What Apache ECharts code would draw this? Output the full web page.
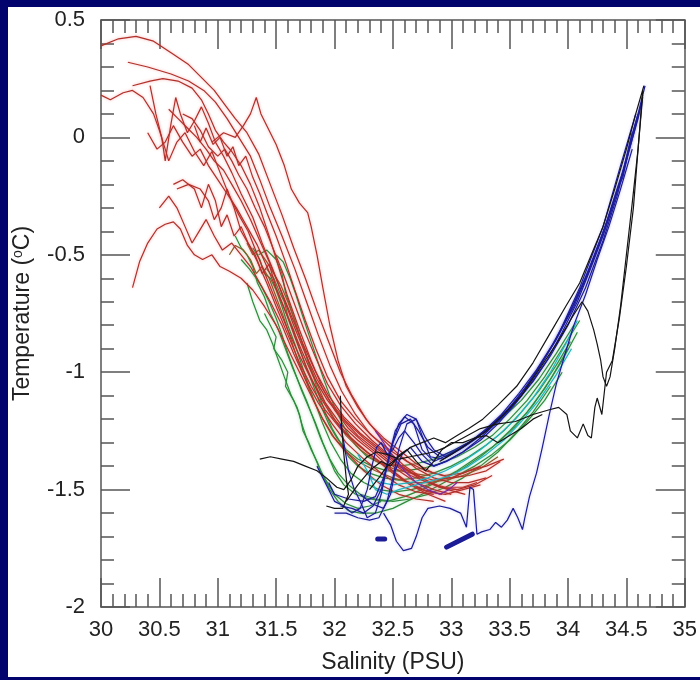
<!DOCTYPE html>
<html><head><meta charset="utf-8">
<script src="https://cdn.jsdelivr.net/npm/echarts@6/dist/echarts.min.js"></script>
<style>html,body{margin:0;padding:0;background:#fff}#c{width:700px;height:680px}</style>
</head><body><div id="c"></div>
<script>
// Axis definitions
const xMin = 30, xMax = 35, xStep = 0.5;
const yMin = -2, yMax = 0.5, yStep = 0.5;
const xTitle = 'Salinity (PSU)';
const yTitleParts = ['Temperature (', 'o', 'C)'];

// Red profiles [salinity, temperature]
const red1 = [[30,0.39],[30.15,0.42],[30.3,0.43],[30.45,0.41],[30.6,0.36],[30.75,0.31],[30.87,0.25],[30.97,0.2],[31.06,0.14],[31.15,0.08],[31.25,0.02],[31.35,-0.07],[31.45,-0.2],[31.55,-0.33],[31.65,-0.47],[31.75,-0.6],[31.85,-0.74],[31.95,-0.87],[32.05,-1.0],[32.15,-1.1],[32.27,-1.2],[32.4,-1.28],[32.55,-1.35],[32.7,-1.41],[32.85,-1.45],[33.0,-1.47],[33.15,-1.47],[33.3,-1.45]];
const red2 = [[30.23,0.32],[30.4,0.3],[30.6,0.27],[30.75,0.24],[30.88,0.2],[30.98,0.15],[31.08,0.08],[31.18,0.0],[31.28,-0.08],[31.36,-0.18],[31.45,-0.3],[31.55,-0.42],[31.66,-0.56],[31.76,-0.7],[31.86,-0.84],[31.96,-0.97],[32.06,-1.08],[32.18,-1.18],[32.3,-1.26],[32.45,-1.33],[32.6,-1.4],[32.75,-1.45],[32.9,-1.49],[33.05,-1.5]];
const red3 = [[30.27,0.22],[30.42,0.24],[30.53,0.25],[30.66,0.24],[30.78,0.21],[30.86,0.16],[30.92,0.1],[30.98,0.03],[31.05,-0.02],[31.12,-0.06],[31.2,-0.12],[31.28,-0.2],[31.36,-0.3],[31.44,-0.42],[31.52,-0.55],[31.6,-0.68],[31.7,-0.82],[31.8,-0.95],[31.9,-1.07],[32.0,-1.16],[32.12,-1.24],[32.25,-1.3],[32.4,-1.36],[32.55,-1.42],[32.7,-1.47],[32.85,-1.5],[33.0,-1.52]];
const red4 = [[30,0.18],[30.08,0.16],[30.19,0.19],[30.27,0.2],[30.36,0.17],[30.45,0.1],[30.5,0.03],[30.55,-0.05],[30.58,-0.1],[30.65,-0.02],[30.72,0.02],[30.8,-0.06],[30.88,-0.12],[30.95,-0.06],[31.02,-0.15],[31.1,-0.25],[31.18,-0.33],[31.26,-0.4],[31.34,-0.5],[31.42,-0.6],[31.5,-0.7],[31.6,-0.82],[31.7,-0.93],[31.8,-1.03],[31.92,-1.13],[32.05,-1.22],[32.2,-1.29],[32.35,-1.35],[32.5,-1.42],[32.65,-1.48],[32.8,-1.52],[32.95,-1.55]];
const red5 = [[30.42,0.22],[30.47,0.1],[30.52,0.0],[30.55,-0.1],[30.6,0.06],[30.64,0.17],[30.68,0.1],[30.74,0.02],[30.8,0.07],[30.86,0.13],[30.92,0.06],[30.98,-0.02],[31.05,-0.08],[31.12,-0.15],[31.2,-0.24],[31.3,-0.34],[31.38,-0.45],[31.47,-0.56],[31.56,-0.68],[31.65,-0.8],[31.75,-0.92],[31.85,-1.03],[31.97,-1.13],[32.1,-1.21],[32.25,-1.28],[32.4,-1.34],[32.55,-1.4],[32.7,-1.44],[32.85,-1.46],[33.0,-1.45],[33.15,-1.42],[33.3,-1.4],[33.45,-1.37]];
const red6 = [[30.95,-0.02],[31.05,0.02],[31.15,0.0],[31.22,0.05],[31.28,0.1],[31.33,0.17],[31.37,0.1],[31.42,0.05],[31.5,-0.03],[31.57,-0.12],[31.63,-0.22],[31.7,-0.28],[31.77,-0.32],[31.8,-0.38],[31.85,-0.5],[31.9,-0.64],[31.96,-0.8],[32.03,-0.95],[32.1,-1.06],[32.2,-1.15],[32.3,-1.22],[32.42,-1.28],[32.55,-1.33],[32.7,-1.39],[32.85,-1.43],[33.0,-1.45],[33.15,-1.44],[33.3,-1.42],[33.42,-1.38]];
const red7 = [[30.27,-0.64],[30.33,-0.53],[30.4,-0.45],[30.48,-0.39],[30.55,-0.37],[30.62,-0.36],[30.68,-0.39],[30.74,-0.46],[30.8,-0.5],[30.87,-0.52],[30.95,-0.5],[31.02,-0.55],[31.1,-0.57],[31.2,-0.6],[31.3,-0.65],[31.4,-0.72],[31.5,-0.8],[31.6,-0.9],[31.7,-1.0],[31.8,-1.1],[31.9,-1.2],[32.0,-1.28],[32.12,-1.35],[32.25,-1.42],[32.4,-1.48],[32.55,-1.52],[32.7,-1.54],[32.85,-1.55]];
const red8 = [[30.65,-0.22],[30.75,-0.2],[30.85,-0.22],[30.92,-0.27],[30.97,-0.35],[31.03,-0.3],[31.08,-0.22],[31.14,-0.3],[31.2,-0.4],[31.27,-0.46],[31.34,-0.53],[31.42,-0.62],[31.5,-0.72],[31.6,-0.84],[31.7,-0.96],[31.8,-1.06],[31.92,-1.16],[32.05,-1.24],[32.2,-1.31],[32.35,-1.37],[32.5,-1.43],[32.65,-1.48],[32.8,-1.51],[32.95,-1.52],[33.1,-1.5],[33.25,-1.48]];
const red9 = [[30.5,-0.3],[30.58,-0.25],[30.65,-0.3],[30.72,-0.38],[30.78,-0.45],[30.84,-0.4],[30.9,-0.35],[30.97,-0.42],[31.04,-0.48],[31.12,-0.45],[31.2,-0.5],[31.28,-0.55],[31.36,-0.62],[31.45,-0.7],[31.55,-0.8],[31.65,-0.92],[31.75,-1.03],[31.86,-1.13],[31.98,-1.22],[32.1,-1.3],[32.25,-1.37],[32.4,-1.43],[32.55,-1.48],[32.7,-1.51],[32.85,-1.52]];
const red10 = [[30.4,0.02],[30.48,-0.05],[30.55,-0.02],[30.62,0.05],[30.7,-0.02],[30.78,-0.08],[30.85,-0.05],[30.92,-0.12],[31.0,-0.18],[31.08,-0.24],[31.16,-0.3],[31.25,-0.38],[31.34,-0.46],[31.43,-0.56],[31.52,-0.67],[31.62,-0.79],[31.72,-0.91],[31.82,-1.02],[31.94,-1.12],[32.07,-1.2],[32.2,-1.27],[32.35,-1.33],[32.5,-1.39],[32.65,-1.44],[32.8,-1.47],[32.95,-1.49],[33.1,-1.49],[33.22,-1.47]];
const red11 = [[30.7,0.1],[30.78,0.08],[30.85,0.03],[30.92,-0.04],[31.0,-0.08],[31.06,-0.05],[31.12,-0.1],[31.18,-0.16],[31.25,-0.22],[31.32,-0.3],[31.4,-0.38],[31.48,-0.48],[31.56,-0.58],[31.65,-0.7],[31.74,-0.82],[31.84,-0.94],[31.94,-1.05],[32.05,-1.14],[32.18,-1.22],[32.32,-1.29],[32.46,-1.35],[32.6,-1.41],[32.75,-1.46],[32.9,-1.49],[33.05,-1.5],[33.2,-1.48],[33.35,-1.44]];
const red12 = [[30.58,0.12],[30.66,0.08],[30.74,0.04],[30.82,0.0],[30.9,-0.05],[30.97,-0.1],[31.05,-0.14],[31.12,-0.2],[31.2,-0.27],[31.28,-0.35],[31.36,-0.44],[31.45,-0.54],[31.54,-0.65],[31.63,-0.76],[31.73,-0.88],[31.83,-0.99],[31.95,-1.1],[32.08,-1.19],[32.22,-1.26],[32.37,-1.32],[32.52,-1.38],[32.67,-1.43],[32.82,-1.47],[32.97,-1.5],[33.12,-1.52]];
const red13 = [[30.62,-0.2],[30.7,-0.18],[30.8,-0.22],[30.86,-0.3],[30.92,-0.2],[30.98,-0.27],[31.03,-0.38],[31.08,-0.33],[31.14,-0.42],[31.2,-0.38],[31.26,-0.45],[31.32,-0.5],[31.38,-0.58],[31.44,-0.54],[31.5,-0.64],[31.58,-0.74],[31.66,-0.85],[31.76,-0.98],[31.86,-1.09],[31.98,-1.19],[32.12,-1.27],[32.28,-1.34],[32.44,-1.4],[32.6,-1.46],[32.76,-1.5],[32.92,-1.52]];
const red14 = [[30.8,0.05],[30.85,-0.02],[30.9,0.04],[30.96,-0.03],[31.02,0.0],[31.08,-0.08],[31.13,-0.04],[31.18,-0.12],[31.24,-0.08],[31.3,-0.17],[31.36,-0.24],[31.42,-0.32],[31.5,-0.42],[31.58,-0.53],[31.66,-0.65],[31.75,-0.78],[31.84,-0.9],[31.94,-1.02],[32.05,-1.12],[32.18,-1.2],[32.32,-1.27],[32.47,-1.33],[32.62,-1.38],[32.78,-1.42],[32.94,-1.44],[33.1,-1.43],[33.25,-1.4]];

// Olive (transition) profiles
const olive1 = [[31.1,-0.5],[31.15,-0.46],[31.22,-0.48],[31.28,-0.52],[31.33,-0.58],[31.38,-0.55],[31.44,-0.6],[31.5,-0.68],[31.56,-0.76],[31.62,-0.85],[31.68,-0.94],[31.75,-1.03],[31.82,-1.12],[31.9,-1.2],[31.98,-1.27],[32.08,-1.33],[32.2,-1.38],[32.35,-1.42],[32.5,-1.45],[32.65,-1.47],[32.8,-1.47],[32.95,-1.46],[33.1,-1.44],[33.25,-1.41],[33.4,-1.36]];
const olive2 = [[31.25,-0.45],[31.3,-0.5],[31.35,-0.48],[31.42,-0.53],[31.48,-0.58],[31.54,-0.63],[31.6,-0.7],[31.66,-0.78],[31.72,-0.87],[31.78,-0.96],[31.85,-1.05],[31.92,-1.13],[32.0,-1.2],[32.1,-1.27],[32.22,-1.33],[32.36,-1.38],[32.5,-1.41],[32.65,-1.43],[32.8,-1.44]];

// Green profiles
const green1 = [[31.15,-0.42],[31.2,-0.47],[31.25,-0.5],[31.3,-0.55],[31.34,-0.62],[31.4,-0.68],[31.45,-0.75],[31.52,-0.82],[31.58,-0.9],[31.64,-0.98],[31.7,-1.05],[31.76,-1.12],[31.82,-1.2],[31.88,-1.28],[31.94,-1.35],[32.0,-1.42],[32.08,-1.48],[32.18,-1.52],[32.3,-1.54],[32.45,-1.55],[32.6,-1.53],[32.75,-1.5],[32.9,-1.46],[33.05,-1.42],[33.2,-1.37],[33.35,-1.32],[33.5,-1.25],[33.65,-1.17],[33.8,-1.07],[33.95,-0.95],[34.08,-0.83]];
const green2 = [[31.25,-0.62],[31.3,-0.7],[31.36,-0.78],[31.42,-0.82],[31.47,-0.88],[31.52,-0.95],[31.57,-1.02],[31.63,-1.1],[31.68,-1.15],[31.72,-1.22],[31.76,-1.28],[31.8,-1.33],[31.85,-1.38],[31.9,-1.44],[31.96,-1.5],[32.03,-1.55],[32.12,-1.59],[32.22,-1.6],[32.35,-1.6],[32.5,-1.58],[32.62,-1.55],[32.75,-1.52],[32.9,-1.48],[33.05,-1.44],[33.2,-1.4],[33.35,-1.35],[33.5,-1.29],[33.65,-1.21],[33.8,-1.12],[33.95,-1.0]];
const green3 = [[31.35,-0.5],[31.42,-0.48],[31.5,-0.52],[31.55,-0.58],[31.58,-0.66],[31.62,-0.72],[31.67,-0.8],[31.72,-0.87],[31.77,-0.95],[31.82,-1.02],[31.87,-1.1],[31.92,-1.17],[31.98,-1.24],[32.05,-1.3],[32.12,-1.36],[32.2,-1.4],[32.3,-1.43],[32.42,-1.45],[32.55,-1.46],[32.7,-1.45],[32.85,-1.43],[33.0,-1.4],[33.15,-1.36],[33.3,-1.31],[33.45,-1.25],[33.6,-1.17],[33.75,-1.08],[33.9,-0.97],[34.02,-0.87]];
const green4 = [[31.2,-0.52],[31.27,-0.56],[31.33,-0.6],[31.38,-0.64],[31.44,-0.7],[31.5,-0.77],[31.55,-0.84],[31.6,-0.92],[31.66,-1.0],[31.72,-1.08],[31.78,-1.15],[31.84,-1.22],[31.9,-1.3],[31.96,-1.37],[32.03,-1.43],[32.12,-1.48],[32.22,-1.52],[32.35,-1.54],[32.5,-1.55],[32.65,-1.54],[32.8,-1.52],[32.95,-1.49],[33.1,-1.45],[33.25,-1.4],[33.4,-1.34],[33.55,-1.26],[33.7,-1.17],[33.85,-1.06]];
const green5 = [[31.42,-0.56],[31.48,-0.6],[31.53,-0.66],[31.57,-0.7],[31.6,-0.76],[31.65,-0.82],[31.7,-0.9],[31.76,-0.98],[31.82,-1.06],[31.88,-1.14],[31.95,-1.22],[32.02,-1.28],[32.1,-1.33],[32.2,-1.37],[32.32,-1.4],[32.45,-1.42],[32.6,-1.42],[32.75,-1.41],[32.9,-1.39],[33.05,-1.36],[33.2,-1.32],[33.35,-1.27],[33.5,-1.2],[33.65,-1.12],[33.8,-1.02],[33.95,-0.9],[34.1,-0.78]];
const green6 = [[31.3,-0.47],[31.36,-0.52],[31.4,-0.58],[31.45,-0.6],[31.5,-0.65],[31.55,-0.72],[31.6,-0.8],[31.66,-0.88],[31.72,-0.97],[31.78,-1.06],[31.84,-1.14],[31.9,-1.22],[31.97,-1.3],[32.05,-1.37],[32.14,-1.43],[32.25,-1.47],[32.38,-1.5],[32.52,-1.51],[32.66,-1.5],[32.8,-1.48],[32.95,-1.45],[33.1,-1.41],[33.25,-1.36],[33.4,-1.3],[33.55,-1.23],[33.7,-1.14],[33.85,-1.03],[34.0,-0.9]];
const green7 = [[31.4,-0.75],[31.45,-0.8],[31.5,-0.85],[31.48,-0.9],[31.55,-0.95],[31.6,-1.0],[31.58,-1.06],[31.65,-1.12],[31.7,-1.18],[31.73,-1.25],[31.78,-1.3],[31.83,-1.36],[31.88,-1.42],[31.95,-1.48],[32.0,-1.52],[32.1,-1.56],[32.2,-1.58],[32.3,-1.57],[32.4,-1.55]];
const green8 = [[31.5,-0.5],[31.56,-0.53],[31.62,-0.6],[31.67,-0.67],[31.72,-0.75],[31.78,-0.84],[31.84,-0.93],[31.9,-1.02],[31.96,-1.1],[32.03,-1.18],[32.1,-1.25],[32.18,-1.31],[32.28,-1.36],[32.4,-1.39],[32.55,-1.4],[32.7,-1.39],[32.85,-1.37],[33.0,-1.34],[33.15,-1.3],[33.3,-1.25],[33.45,-1.19],[33.6,-1.12],[33.75,-1.03],[33.9,-0.92],[34.05,-0.8]];

// Cyan profiles
const cyan1 = [[32.3,-1.45],[32.4,-1.47],[32.5,-1.48],[32.65,-1.47],[32.8,-1.45],[32.95,-1.42],[33.1,-1.38],[33.25,-1.33],[33.4,-1.27],[33.55,-1.2],[33.7,-1.11],[33.85,-1.0],[33.98,-0.88],[34.08,-0.78]];
const cyan2 = [[32.2,-1.35],[32.28,-1.42],[32.35,-1.5],[32.45,-1.52],[32.55,-1.5],[32.7,-1.48],[32.85,-1.46],[33.0,-1.44],[33.15,-1.4],[33.3,-1.35],[33.45,-1.29],[33.6,-1.21],[33.75,-1.12],[33.9,-1.01],[34.03,-0.9]];

// Purple profile
const purple1 = [[32.35,-1.25],[32.42,-1.3],[32.5,-1.36],[32.6,-1.42],[32.7,-1.47],[32.8,-1.5],[32.9,-1.52],[32.98,-1.5],[33.05,-1.47]];

// Blue profiles
const blue1 = [[34.66,0.22],[34.6,0.1],[34.52,-0.05],[34.45,-0.18],[34.36,-0.32],[34.27,-0.45],[34.17,-0.58],[34.05,-0.72],[33.92,-0.84],[33.78,-0.96],[33.63,-1.07],[33.48,-1.16],[33.33,-1.23],[33.18,-1.29],[33.03,-1.33],[32.9,-1.36],[32.8,-1.32],[32.72,-1.25],[32.65,-1.2],[32.57,-1.22],[32.5,-1.3],[32.45,-1.4],[32.4,-1.5],[32.33,-1.57],[32.25,-1.6],[32.15,-1.58],[32.05,-1.57]];
const blue2 = [[34.63,0.15],[34.57,0.03],[34.5,-0.1],[34.42,-0.22],[34.33,-0.36],[34.23,-0.5],[34.12,-0.63],[34.0,-0.76],[33.87,-0.88],[33.73,-0.99],[33.58,-1.09],[33.43,-1.18],[33.28,-1.25],[33.13,-1.31],[32.98,-1.35],[32.85,-1.38],[32.75,-1.33],[32.68,-1.22],[32.6,-1.19],[32.52,-1.25],[32.47,-1.35],[32.42,-1.45],[32.35,-1.53],[32.25,-1.55],[32.12,-1.54],[32.0,-1.52],[31.95,-1.47]];
const blue3 = [[34.6,0.1],[34.53,-0.02],[34.47,-0.15],[34.4,-0.26],[34.32,-0.38],[34.24,-0.48],[34.15,-0.6],[34.04,-0.72],[33.92,-0.84],[33.8,-0.94],[33.66,-1.05],[33.52,-1.14],[33.38,-1.21],[33.22,-1.28],[33.07,-1.33],[32.93,-1.37],[32.82,-1.36],[32.75,-1.27],[32.7,-1.2],[32.62,-1.22],[32.55,-1.33],[32.5,-1.45],[32.45,-1.55],[32.38,-1.62],[32.3,-1.63],[32.2,-1.62],[32.1,-1.6],[32.0,-1.6]];
const blue4 = [[34.55,0.02],[34.5,-0.1],[34.47,-0.17],[34.44,-0.2],[34.38,-0.3],[34.3,-0.42],[34.2,-0.55],[34.08,-0.7],[33.95,-0.83],[33.82,-0.95],[33.68,-1.05],[33.54,-1.14],[33.4,-1.22],[33.25,-1.29],[33.1,-1.34],[32.96,-1.38],[32.85,-1.4],[32.75,-1.38],[32.65,-1.32],[32.58,-1.35],[32.52,-1.42],[32.48,-1.52],[32.42,-1.58],[32.32,-1.56],[32.22,-1.52]];
const blue5 = [[34.55,-0.05],[34.45,-0.22],[34.35,-0.38],[34.25,-0.52],[34.15,-0.67],[34.05,-0.8],[33.97,-0.93],[33.9,-1.05],[33.84,-1.18],[33.78,-1.32],[33.73,-1.43],[33.67,-1.53],[33.63,-1.62],[33.61,-1.67],[33.57,-1.62],[33.53,-1.58],[33.48,-1.63],[33.43,-1.66],[33.38,-1.64],[33.33,-1.67],[33.26,-1.68],[33.22,-1.69],[33.19,-1.5],[33.16,-1.49],[33.13,-1.66],[33.08,-1.6],[32.99,-1.58],[32.9,-1.57],[32.8,-1.58],[32.75,-1.62],[32.7,-1.7],[32.66,-1.75],[32.59,-1.76],[32.53,-1.72],[32.48,-1.65],[32.42,-1.6]];
const blue6 = [[31.85,-1.4],[31.9,-1.45],[31.95,-1.5],[32.0,-1.55],[32.08,-1.57],[32.15,-1.6],[32.22,-1.58],[32.28,-1.5],[32.32,-1.4],[32.36,-1.32],[32.4,-1.3],[32.45,-1.35],[32.5,-1.33],[32.55,-1.28],[32.6,-1.25],[32.68,-1.3],[32.75,-1.35],[32.85,-1.4],[32.95,-1.38],[33.1,-1.34],[33.25,-1.28],[33.4,-1.21],[33.55,-1.13],[33.7,-1.04],[33.85,-0.93],[34.0,-0.8],[34.15,-0.64],[34.3,-0.44],[34.42,-0.25],[34.52,-0.06],[34.6,0.08],[34.64,0.17]];
const blue7 = [[32.05,-1.22],[32.08,-1.3],[32.12,-1.42],[32.17,-1.5],[32.22,-1.55],[32.28,-1.62],[32.35,-1.6],[32.4,-1.52],[32.45,-1.4],[32.5,-1.3],[32.55,-1.22],[32.62,-1.18],[32.7,-1.2],[32.78,-1.28],[32.85,-1.33],[32.95,-1.36],[33.1,-1.32],[33.3,-1.25],[33.5,-1.16],[33.7,-1.02],[33.9,-0.86],[34.1,-0.64],[34.3,-0.38],[34.45,-0.12],[34.58,0.1]];
const blueDash1 = [[32.37,-1.71],[32.43,-1.71]];
const blueDash2 = [[32.96,-1.745],[33.18,-1.69]];

// Black profiles
const black1 = [[31.36,-1.37],[31.45,-1.36],[31.55,-1.37],[31.65,-1.38],[31.75,-1.4],[31.85,-1.42],[31.93,-1.45],[32.02,-1.49],[32.08,-1.5],[32.14,-1.46],[32.2,-1.4],[32.28,-1.36],[32.36,-1.34],[32.45,-1.35],[32.55,-1.37],[32.65,-1.36],[32.75,-1.35],[32.85,-1.34],[32.95,-1.32],[33.1,-1.28],[33.25,-1.24],[33.4,-1.22],[33.55,-1.21],[33.7,-1.18],[33.84,-1.16],[33.92,-1.15],[33.99,-1.18],[34.02,-1.25],[34.08,-1.28],[34.13,-1.22],[34.17,-1.27],[34.2,-1.28],[34.23,-1.15],[34.25,-1.11],[34.29,-1.18],[34.33,-1.0],[34.38,-0.95],[34.44,-0.77],[34.5,-0.55],[34.56,-0.3],[34.6,-0.05],[34.64,0.2]];
const black2 = [[32.3,-1.5],[32.38,-1.45],[32.45,-1.4],[32.55,-1.36],[32.65,-1.32],[32.75,-1.3],[32.85,-1.28],[32.95,-1.3],[33.05,-1.27],[33.15,-1.24],[33.27,-1.2],[33.4,-1.14],[33.56,-1.06],[33.7,-0.96],[33.84,-0.84],[33.98,-0.72],[34.1,-0.62],[34.2,-0.5],[34.3,-0.38],[34.4,-0.22],[34.5,-0.05],[34.58,0.1],[34.65,0.22]];
const black3 = [[32.9,-1.38],[33.0,-1.35],[33.15,-1.3],[33.3,-1.25],[33.45,-1.18],[33.6,-1.1],[33.75,-0.99],[33.9,-0.88],[34.03,-0.77],[34.12,-0.7],[34.17,-0.74],[34.22,-0.82],[34.25,-0.88],[34.28,-0.95],[34.3,-1.02],[34.33,-1.06],[34.36,-1.02],[34.4,-0.9],[34.45,-0.72],[34.5,-0.5],[34.55,-0.28],[34.6,-0.05],[34.64,0.18]];
const black4 = [[31.93,-1.57],[32.0,-1.58],[32.07,-1.58],[32.12,-1.52],[32.1,-1.45],[32.08,-1.35],[32.06,-1.22],[32.05,-1.1]];
const black5 = [[32.1,-1.55],[32.2,-1.48],[32.3,-1.42],[32.4,-1.38],[32.48,-1.4],[32.56,-1.35],[32.62,-1.33],[32.7,-1.38],[32.78,-1.42],[32.85,-1.38],[32.92,-1.33],[33.0,-1.3],[33.1,-1.3],[33.2,-1.28],[33.3,-1.27],[33.4,-1.3],[33.5,-1.27],[33.6,-1.24],[33.7,-1.2],[33.78,-1.18]];

const groups = [
  {color:'#2e8b3b', lines:[green1,green2,green3,green4,green5,green6,green7,green8], shadow:'rgba(60,180,80,0.35)'},
  {color:'#8a5a28', lines:[olive1,olive2], shadow:'rgba(200,120,60,0.3)'},
  {color:'#b0302a', lines:[red1,red2,red3,red4,red5,red6,red7,red8,red9,red10,red11,red12,red13,red14], shadow:'rgba(240,60,60,0.45)'},
  {color:'#22b4c4', lines:[cyan1,cyan2], shadow:'rgba(60,220,230,0.3)'},
  {color:'#7a2a9c', lines:[purple1], shadow:'rgba(200,60,220,0.3)'},
  {color:'#1c1c96', lines:[blue1,blue2,blue3,blue4,blue5,blue6,blue7], shadow:'rgba(60,60,220,0.3)'},
  {color:'#141414', lines:[black1,black2,black3,black4,black5], shadow:'rgba(0,0,0,0)'}
];

const series = [];
groups.forEach(g => g.lines.forEach(d => series.push({
  type:'line', data:d, symbol:'none', smooth:false, animation:false,
  lineStyle:{color:g.color, width:1.2, shadowColor:g.shadow, shadowBlur:3}
})));
[blueDash1, blueDash2].forEach(d => series.push({
  type:'line', data:d, symbol:'none', animation:false,
  lineStyle:{color:'#1c1c96', width:5, cap:'round'}
}));

const tickCol = '#555';
const font = 'Liberation Sans, Arial, sans-serif';
function axisBase(show) {
  return {
    type:'value', splitLine:{show:false},
    axisLine:{show:true, onZero:false, lineStyle:{color:tickCol, width:1.5}},
    axisTick:{show:true, inside:true, length:29, lineStyle:{color:tickCol, width:1.5}},
    minorTick:{show:true, splitNumber:5, length:13, lineStyle:{color:tickCol, width:1.5}},
    axisLabel:{show:show, color:'#222', fontSize:22, fontFamily:font}
  };
}
const xa0 = Object.assign(axisBase(true), {min:xMin, max:xMax, interval:xStep, position:'bottom',
  name:xTitle, nameLocation:'middle', nameGap:44, nameTextStyle:{color:'#222', fontSize:23, fontFamily:font}});
xa0.axisLabel.margin = 12;
const xa1 = Object.assign(axisBase(false), {min:xMin, max:xMax, interval:xStep, position:'top'});
const ya0 = Object.assign(axisBase(true), {min:yMin, max:yMax, interval:yStep, position:'left',
  name:'{a|'+yTitleParts[0]+'}{s|'+yTitleParts[1]+'}{a|'+yTitleParts[2]+'}', nameLocation:'middle', nameGap:66,
  nameTextStyle:{color:'#222', fontSize:23, fontFamily:font,
    rich:{a:{fontSize:23, fontFamily:font, color:'#222'}, s:{fontSize:14, fontFamily:font, color:'#222', verticalAlign:'top', padding:[0,0,10,0]}}}});
ya0.axisLabel.margin = 16;
ya0.axisLabel.formatter = v => String(v);
const ya1 = Object.assign(axisBase(false), {min:yMin, max:yMax, interval:yStep, position:'right'});

const navy = '#03036e';
const chart = echarts.init(document.getElementById('c'), null, {renderer:'canvas'});
chart.setOption({
  animation:false,
  backgroundColor:'#ffffff',
  grid:{left:101, right:15, top:20, bottom:73},
  xAxis:[xa0, xa1],
  yAxis:[ya0, ya1],
  series: series,
  graphic:[
    {type:'rect', shape:{x:0,y:0,width:700,height:7}, style:{fill:navy}, silent:true},
    {type:'rect', shape:{x:0,y:0,width:8,height:680}, style:{fill:navy}, silent:true},
    {type:'rect', shape:{x:0,y:677,width:700,height:3}, style:{fill:navy}, silent:true}
  ]
});
</script>
</body></html>
